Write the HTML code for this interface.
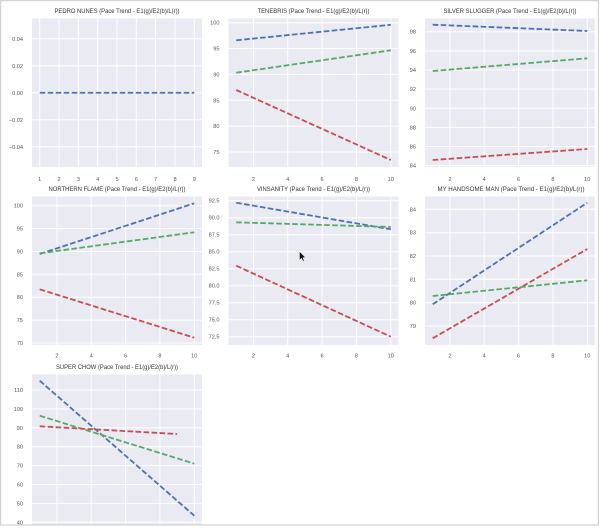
<!DOCTYPE html>
<html><head><meta charset="utf-8"><style>
html,body{margin:0;padding:0;background:#fff;}
svg{display:block;}
.bg{fill:#EAEAF2;}
.g line{stroke:#fff;stroke-width:1;}
.t{font-family:"Liberation Sans",sans-serif;font-size:5.6px;fill:#555;}
.yl{text-anchor:end;}
.xl{text-anchor:middle;}
.ti{font-family:"Liberation Sans",sans-serif;font-size:6.2px;fill:#333;text-anchor:middle;}
.s{fill:none;stroke-width:1.8;stroke-dasharray:5.6 2.4;}
.b{stroke:#4C72B0;}.gr{stroke:#55A868;}.r{stroke:#C44E52;}
</style></head><body>
<svg width="600" height="528" viewBox="0 0 600 528" xmlns="http://www.w3.org/2000/svg">
<rect x="0" y="0" width="600" height="528" fill="#fff"/>

<!-- Panel 1 -->
<rect class="bg" x="32" y="18.5" width="170" height="148.5"/>
<g class="g">
<line x1="39.7" y1="18.5" x2="39.7" y2="167"/><line x1="59" y1="18.5" x2="59" y2="167"/><line x1="78.4" y1="18.5" x2="78.4" y2="167"/><line x1="97.7" y1="18.5" x2="97.7" y2="167"/><line x1="117" y1="18.5" x2="117" y2="167"/><line x1="136.3" y1="18.5" x2="136.3" y2="167"/><line x1="155.6" y1="18.5" x2="155.6" y2="167"/><line x1="175" y1="18.5" x2="175" y2="167"/><line x1="194.3" y1="18.5" x2="194.3" y2="167"/>
<line x1="32" y1="38.75" x2="202" y2="38.75"/><line x1="32" y1="65.75" x2="202" y2="65.75"/><line x1="32" y1="92.75" x2="202" y2="92.75"/><line x1="32" y1="119.75" x2="202" y2="119.75"/><line x1="32" y1="146.75" x2="202" y2="146.75"/>
</g>
<text class="ti" x="117" y="13" textLength="125" lengthAdjust="spacingAndGlyphs">PEDRO NUNES (Pace Trend - E1(g)/E2(b)/L(r))</text>
<g class="t yl"><text x="23" y="40.8">0.04</text><text x="23" y="67.8">0.02</text><text x="23" y="94.8">0.00</text><text x="23" y="121.8">−0.02</text><text x="23" y="148.8">−0.04</text></g>
<g class="t xl"><text x="39.7" y="181">1</text><text x="59" y="181">2</text><text x="78.4" y="181">3</text><text x="97.7" y="181">4</text><text x="117" y="181">5</text><text x="136.3" y="181">6</text><text x="155.6" y="181">7</text><text x="175" y="181">8</text><text x="194.3" y="181">9</text></g>
<line class="s b" x1="39.7" y1="92.75" x2="194.3" y2="92.75"/>

<!-- Panel 2 -->
<rect class="bg" x="228.5" y="18.5" width="170" height="148.5"/>
<g class="g">
<line x1="253.4" y1="18.5" x2="253.4" y2="167"/><line x1="287.7" y1="18.5" x2="287.7" y2="167"/><line x1="322.1" y1="18.5" x2="322.1" y2="167"/><line x1="356.4" y1="18.5" x2="356.4" y2="167"/><line x1="390.8" y1="18.5" x2="390.8" y2="167"/>
<line x1="228.5" y1="22.7" x2="398.5" y2="22.7"/><line x1="228.5" y1="48.55" x2="398.5" y2="48.55"/><line x1="228.5" y1="74.4" x2="398.5" y2="74.4"/><line x1="228.5" y1="100.3" x2="398.5" y2="100.3"/><line x1="228.5" y1="126.2" x2="398.5" y2="126.2"/><line x1="228.5" y1="152" x2="398.5" y2="152"/>
</g>
<text class="ti" x="313.5" y="13" textLength="112" lengthAdjust="spacingAndGlyphs">TENEBRIS (Pace Trend - E1(g)/E2(b)/L(r))</text>
<g class="t yl"><text x="219.5" y="24.7">100</text><text x="219.5" y="50.6">95</text><text x="219.5" y="76.4">90</text><text x="219.5" y="102.3">85</text><text x="219.5" y="128.2">80</text><text x="219.5" y="154">75</text></g>
<g class="t xl"><text x="253.4" y="181">2</text><text x="287.7" y="181">4</text><text x="322.1" y="181">6</text><text x="356.4" y="181">8</text><text x="390.8" y="181">10</text></g>
<line class="s b" x1="236.2" y1="40.3" x2="390.8" y2="24.8"/>
<line class="s gr" x1="236.2" y1="72.7" x2="390.8" y2="50.3"/>
<line class="s r" x1="236.2" y1="90" x2="390.8" y2="160"/>

<!-- Panel 3 -->
<rect class="bg" x="425" y="18.5" width="170" height="148.5"/>
<g class="g">
<line x1="449.9" y1="18.5" x2="449.9" y2="167"/><line x1="484.2" y1="18.5" x2="484.2" y2="167"/><line x1="518.6" y1="18.5" x2="518.6" y2="167"/><line x1="552.9" y1="18.5" x2="552.9" y2="167"/><line x1="587.3" y1="18.5" x2="587.3" y2="167"/>
<line x1="425" y1="31.7" x2="595" y2="31.7"/><line x1="425" y1="50.84" x2="595" y2="50.84"/><line x1="425" y1="69.98" x2="595" y2="69.98"/><line x1="425" y1="89.12" x2="595" y2="89.12"/><line x1="425" y1="108.26" x2="595" y2="108.26"/><line x1="425" y1="127.4" x2="595" y2="127.4"/><line x1="425" y1="146.54" x2="595" y2="146.54"/><line x1="425" y1="165.68" x2="595" y2="165.68"/>
</g>
<text class="ti" x="510" y="13" textLength="133" lengthAdjust="spacingAndGlyphs">SILVER SLUGGER (Pace Trend - E1(g)/E2(b)/L(r))</text>
<g class="t yl"><text x="416" y="33.7">98</text><text x="416" y="52.8">96</text><text x="416" y="72">94</text><text x="416" y="91.1">92</text><text x="416" y="110.3">90</text><text x="416" y="129.4">88</text><text x="416" y="148.5">86</text><text x="416" y="167.7">84</text></g>
<g class="t xl"><text x="449.9" y="181">2</text><text x="484.2" y="181">4</text><text x="518.6" y="181">6</text><text x="552.9" y="181">8</text><text x="587.3" y="181">10</text></g>
<line class="s b" x1="432.7" y1="24.7" x2="587.3" y2="31"/>
<line class="s gr" x1="432.7" y1="71" x2="587.3" y2="58.3"/>
<line class="s r" x1="432.7" y1="160" x2="587.3" y2="149"/>

<!-- Panel 4 -->
<rect class="bg" x="32" y="196.5" width="170" height="148.5"/>
<g class="g">
<line x1="56.9" y1="196.5" x2="56.9" y2="345"/><line x1="91.2" y1="196.5" x2="91.2" y2="345"/><line x1="125.6" y1="196.5" x2="125.6" y2="345"/><line x1="159.9" y1="196.5" x2="159.9" y2="345"/><line x1="194.3" y1="196.5" x2="194.3" y2="345"/>
<line x1="32" y1="205.7" x2="202" y2="205.7"/><line x1="32" y1="228.6" x2="202" y2="228.6"/><line x1="32" y1="251.5" x2="202" y2="251.5"/><line x1="32" y1="274.3" x2="202" y2="274.3"/><line x1="32" y1="297.2" x2="202" y2="297.2"/><line x1="32" y1="320.1" x2="202" y2="320.1"/><line x1="32" y1="343" x2="202" y2="343"/>
</g>
<text class="ti" x="117" y="191" textLength="137" lengthAdjust="spacingAndGlyphs">NORTHERN FLAME (Pace Trend - E1(g)/E2(b)/L(r))</text>
<g class="t yl"><text x="23" y="207.7">100</text><text x="23" y="230.6">95</text><text x="23" y="253.5">90</text><text x="23" y="276.3">85</text><text x="23" y="299.2">80</text><text x="23" y="322.1">75</text><text x="23" y="345">70</text></g>
<g class="t xl"><text x="56.9" y="357.7">2</text><text x="91.2" y="357.7">4</text><text x="125.6" y="357.7">6</text><text x="159.9" y="357.7">8</text><text x="194.3" y="357.7">10</text></g>
<line class="s b" x1="39.7" y1="254" x2="194.3" y2="203.3"/>
<line class="s gr" x1="39.7" y1="253.3" x2="194.3" y2="232.3"/>
<line class="s r" x1="39.7" y1="289.3" x2="194.3" y2="337.7"/>

<!-- Panel 5 -->
<rect class="bg" x="228.5" y="196.5" width="170" height="148.5"/>
<g class="g">
<line x1="253.4" y1="196.5" x2="253.4" y2="345"/><line x1="287.7" y1="196.5" x2="287.7" y2="345"/><line x1="322.1" y1="196.5" x2="322.1" y2="345"/><line x1="356.4" y1="196.5" x2="356.4" y2="345"/><line x1="390.8" y1="196.5" x2="390.8" y2="345"/>
<line x1="228.5" y1="200.7" x2="398.5" y2="200.7"/><line x1="228.5" y1="217.7" x2="398.5" y2="217.7"/><line x1="228.5" y1="234.7" x2="398.5" y2="234.7"/><line x1="228.5" y1="251.7" x2="398.5" y2="251.7"/><line x1="228.5" y1="268.7" x2="398.5" y2="268.7"/><line x1="228.5" y1="285.7" x2="398.5" y2="285.7"/><line x1="228.5" y1="302.7" x2="398.5" y2="302.7"/><line x1="228.5" y1="319.7" x2="398.5" y2="319.7"/><line x1="228.5" y1="336.7" x2="398.5" y2="336.7"/>
</g>
<text class="ti" x="313.5" y="191" textLength="113" lengthAdjust="spacingAndGlyphs">VINSANITY (Pace Trend - E1(g)/E2(b)/L(r))</text>
<g class="t yl"><text x="219.5" y="202.7">92.5</text><text x="219.5" y="219.7">90.0</text><text x="219.5" y="236.7">87.5</text><text x="219.5" y="253.7">85.0</text><text x="219.5" y="270.7">82.5</text><text x="219.5" y="287.7">80.0</text><text x="219.5" y="304.7">77.5</text><text x="219.5" y="321.7">75.0</text><text x="219.5" y="338.7">72.5</text></g>
<g class="t xl"><text x="253.4" y="357.7">2</text><text x="287.7" y="357.7">4</text><text x="322.1" y="357.7">6</text><text x="356.4" y="357.7">8</text><text x="390.8" y="357.7">10</text></g>
<line class="s b" x1="236.2" y1="202.7" x2="390.8" y2="229.3"/>
<line class="s gr" x1="236.2" y1="222.3" x2="390.8" y2="227"/>
<line class="s r" x1="236.2" y1="265.7" x2="390.8" y2="336.7"/>
<path d="M299.5,251.5 L299.5,260 L301.5,258.2 L303,261.2 L304.2,260.6 L302.8,257.7 L305.3,257.5 Z" fill="#111" stroke="#fff" stroke-width="0.4"/>

<!-- Panel 6 -->
<rect class="bg" x="425" y="196.5" width="170" height="148.5"/>
<g class="g">
<line x1="449.9" y1="196.5" x2="449.9" y2="345"/><line x1="484.2" y1="196.5" x2="484.2" y2="345"/><line x1="518.6" y1="196.5" x2="518.6" y2="345"/><line x1="552.9" y1="196.5" x2="552.9" y2="345"/><line x1="587.3" y1="196.5" x2="587.3" y2="345"/>
<line x1="425" y1="209.3" x2="595" y2="209.3"/><line x1="425" y1="232.7" x2="595" y2="232.7"/><line x1="425" y1="256" x2="595" y2="256"/><line x1="425" y1="279.3" x2="595" y2="279.3"/><line x1="425" y1="302.7" x2="595" y2="302.7"/><line x1="425" y1="326" x2="595" y2="326"/>
</g>
<text class="ti" x="511" y="191" textLength="147" lengthAdjust="spacingAndGlyphs">MY HANDSOME MAN (Pace Trend - E1(g)/E2(b)/L(r))</text>
<g class="t yl"><text x="416" y="211.3">84</text><text x="416" y="234.7">83</text><text x="416" y="258">82</text><text x="416" y="281.3">81</text><text x="416" y="304.7">80</text><text x="416" y="328">79</text></g>
<g class="t xl"><text x="449.9" y="357.7">2</text><text x="484.2" y="357.7">4</text><text x="518.6" y="357.7">6</text><text x="552.9" y="357.7">8</text><text x="587.3" y="357.7">10</text></g>
<line class="s b" x1="432.7" y1="304.3" x2="587.3" y2="202.7"/>
<line class="s r" x1="432.7" y1="338.3" x2="587.3" y2="249"/>
<line class="s gr" x1="432.7" y1="296" x2="587.3" y2="280.3"/>

<!-- Panel 7 -->
<rect class="bg" x="32" y="374.5" width="170" height="150"/>
<g class="g">
<line x1="56.9" y1="374.5" x2="56.9" y2="524.5"/><line x1="91.2" y1="374.5" x2="91.2" y2="524.5"/><line x1="125.6" y1="374.5" x2="125.6" y2="524.5"/><line x1="159.9" y1="374.5" x2="159.9" y2="524.5"/><line x1="194.3" y1="374.5" x2="194.3" y2="524.5"/>
<line x1="32" y1="390" x2="202" y2="390"/><line x1="32" y1="408.9" x2="202" y2="408.9"/><line x1="32" y1="427.8" x2="202" y2="427.8"/><line x1="32" y1="446.7" x2="202" y2="446.7"/><line x1="32" y1="465.6" x2="202" y2="465.6"/><line x1="32" y1="484.5" x2="202" y2="484.5"/><line x1="32" y1="503.4" x2="202" y2="503.4"/><line x1="32" y1="522.3" x2="202" y2="522.3"/>
</g>
<text class="ti" x="117" y="369" textLength="122" lengthAdjust="spacingAndGlyphs">SUPER CHOW (Pace Trend - E1(g)/E2(b)/L(r))</text>
<g class="t yl"><text x="23" y="392">110</text><text x="23" y="410.9">100</text><text x="23" y="429.8">90</text><text x="23" y="448.7">80</text><text x="23" y="467.6">70</text><text x="23" y="486.5">60</text><text x="23" y="505.4">50</text><text x="23" y="524.3">40</text></g>
<line class="s b" x1="39.7" y1="380.7" x2="194.3" y2="515.7"/>
<line class="s gr" x1="39.7" y1="415.7" x2="194.3" y2="463.7"/>
<line class="s r" x1="39.7" y1="426.3" x2="177.1" y2="434"/>

<!-- frame -->
<rect x="0" y="525" width="600" height="3" fill="#fff"/>
<rect x="0.6" y="0.6" width="597.8" height="524.4" fill="none" stroke="#d2d2d2" stroke-width="1.2"/>
</svg>
</body></html>
